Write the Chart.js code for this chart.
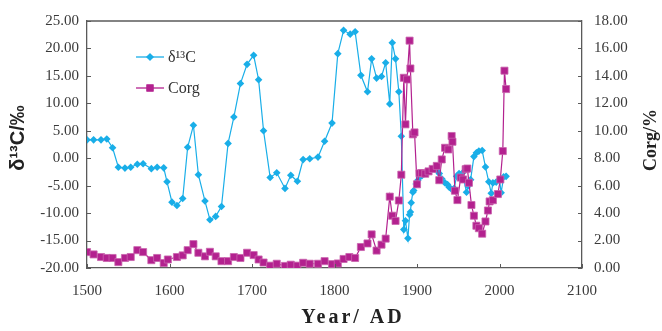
<!DOCTYPE html>
<html><head><meta charset="utf-8">
<script src="https://cdn.jsdelivr.net/npm/chart.js@4"></script>
<style>html,body{margin:0;padding:0;background:#fff}#wrap{width:662px;height:331px}</style>
</head><body><div id="wrap"><canvas id="c" width="662" height="331"></canvas></div>
<script>
// ---- data ----
const d13cYears = [1500,1508,1517,1524,1531,1538,1546,1553,1561,1568,1578,1585,1593,1597,1603,1609,1616,1622,1629,1635,1643,1649,1656,1663,1671,1678,1686,1694,1702,1708,1714,1722,1730,1740,1747,1755,1762,1770,1780,1788,1797,1804,1811,1819,1825,1832,1840,1845,1851,1857,1862,1867,1870,1874,1878,1881,1884,1886,1889,1891,1892,1893,1895,1896,1899,1901,1903,1906,1909,1913,1917,1921,1925,1927,1930,1934,1937,1939,1942,1945,1948,1951,1955,1960,1962,1965,1969,1972,1975,1979,1983,1987,1990,1992,1996,2000,2002,2005,2008];
const d13cValues = [3.35,3.35,3.35,3.5,1.9,-1.65,-1.8,-1.65,-1.1,-1.0,-1.9,-1.65,-1.75,-4.3,-8.0,-8.6,-7.35,2.0,6.0,-3.0,-7.8,-11.2,-10.6,-8.8,2.7,7.5,13.6,17.1,18.75,14.3,5.0,-3.5,-2.65,-5.5,-3.1,-4.2,-0.25,-0.1,0.2,3.1,6.4,19.05,23.3,22.6,23.05,15.1,12.1,18.1,14.6,14.9,17.4,9.9,21.05,18.1,12.1,4.0,-13.0,-11.4,-14.6,-10.3,-9.8,-8.1,-6.2,-5.9,-4.7,-4.0,-3.5,-3.2,-2.8,-2.6,-2.2,-2.0,-2.35,-2.8,-3.75,-4.5,-4.8,-5.3,-5.65,-5.5,-3.3,-2.8,-2.7,-6.2,-5.05,-3.9,0.3,1.0,1.3,1.4,-1.6,-4.3,-6.4,-4.5,-4.35,-3.9,-6.3,-3.4,-3.3];
const corgYears = [1500,1508,1517,1524,1531,1538,1546,1553,1561,1568,1578,1585,1593,1598,1609,1616,1622,1629,1635,1643,1649,1656,1663,1671,1678,1686,1694,1702,1708,1714,1722,1730,1740,1747,1755,1762,1770,1780,1788,1797,1804,1811,1818,1825,1832,1840,1845,1851,1857,1862,1867,1870,1874,1878,1881,1884,1886,1888,1891,1892,1895,1897,1900,1903,1906,1910,1914,1919,1924,1927,1930,1934,1938,1942,1943,1946,1949,1953,1956,1959,1961,1963,1966,1969,1972,1975,1979,1983,1986,1988,1992,1998,2001,2004,2006,2008];
const corgValues = [1.16,0.99,0.80,0.73,0.73,0.43,0.73,0.80,1.30,1.16,0.57,0.73,0.36,0.62,0.80,0.92,1.30,1.74,1.11,0.85,1.18,0.85,0.50,0.50,0.80,0.73,1.11,0.94,0.62,0.40,0.17,0.31,0.15,0.24,0.17,0.38,0.31,0.31,0.50,0.28,0.33,0.66,0.80,0.73,1.53,1.79,2.45,1.27,1.70,2.14,5.2,3.81,3.43,4.92,6.8,13.86,10.47,13.74,16.57,14.54,9.74,9.88,6.1,6.9,6.92,6.87,7.04,7.22,7.44,6.4,7.91,8.76,8.64,9.62,9.2,5.63,4.95,6.59,6.45,7.2,7.25,6.21,4.59,3.81,3.08,2.9,2.5,3.39,4.19,4.85,4.94,5.39,6.45,8.52,14.38,13.04];
const xTickValues = [1500,1600,1700,1800,1900,2000,2100];
const leftTickValues = [-20,-15,-10,-5,0,5,10,15,20,25];
const rightTickValues = [0,2,4,6,8,10,12,14,16,18];
const seriesNames = ['δ¹³C','Corg'];
const leftTitle = 'δ¹³C/‰';
const rightTitle = 'Corg/%';
const xTitle = 'Year/ AD';

const BLUE = '#19aee8', MAG = '#b3218f', AXIS = '#5a5a5a', TXT = '#3a3a3a';
const tickFont = {family:'"Liberation Serif", serif', size:15};

const decor = {
  id:'decor',
  afterDraw(chart){
    const {ctx, chartArea:a, scales} = chart;
    ctx.save();
    ctx.strokeStyle = AXIS; ctx.lineWidth = 1.3;
    ctx.beginPath(); ctx.moveTo(a.left, a.top); ctx.lineTo(a.right, a.top); ctx.stroke();
    ctx.lineWidth = 1;
    ctx.beginPath();
    scales.x.ticks.forEach(t=>{const p=Math.round(scales.x.getPixelForValue(t.value))+0.5; ctx.moveTo(p,a.bottom); ctx.lineTo(p,a.bottom-4);});
    scales.y.ticks.forEach(t=>{const p=Math.round(scales.y.getPixelForValue(t.value))+0.5; ctx.moveTo(a.left,p); ctx.lineTo(a.left+4,p);});
    scales.y1.ticks.forEach(t=>{const p=Math.round(scales.y1.getPixelForValue(t.value))+0.5; ctx.moveTo(a.right,p); ctx.lineTo(a.right-4,p);});
    ctx.stroke();
    // legend
    const ds = chart.data.datasets;
    const rows = [{y:57, ds:ds[0]}, {y:88, ds:ds[1]}];
    rows.forEach(r=>{
      ctx.strokeStyle = r.ds.borderColor; ctx.lineWidth = 1.3;
      ctx.beginPath(); ctx.moveTo(136, r.y); ctx.lineTo(164, r.y); ctx.stroke();
      ctx.fillStyle = r.ds.pointBackgroundColor;
      Chart.helpers.drawPoint(ctx, {pointStyle:r.ds.pointStyle, radius:r.ds.pointRadius, rotation:0, borderWidth:0}, 150, r.y);
      ctx.fill();
      ctx.fillStyle = '#333'; ctx.font = '16px "Liberation Serif", serif';
      ctx.textAlign='left'; ctx.textBaseline='middle';
      ctx.fillText(r.ds.label, 168, r.y+1);
    });
    // titles
    ctx.fillStyle = '#222';
    ctx.textAlign='center'; ctx.textBaseline='middle';
    ctx.save(); ctx.translate(18,138); ctx.rotate(-Math.PI/2);
    ctx.font = 'bold 20px "Liberation Sans", sans-serif'; ctx.fillText(leftTitle,0,0); ctx.restore();
    ctx.save(); ctx.translate(651,140); ctx.rotate(-Math.PI/2);
    ctx.font = 'bold 18px "Liberation Serif", serif'; ctx.fillText(rightTitle,0,0); ctx.restore();
    ctx.font = 'bold 20px "Liberation Serif", serif';
    if ('letterSpacing' in ctx) ctx.letterSpacing = '3px';
    ctx.fillText(xTitle, 353, 318);
    ctx.restore();
  }
};

new Chart(document.getElementById('c'), {
  type:'line',
  data:{datasets:[
    {label:seriesNames[0], data:d13cYears.map((x,i)=>({x, y:d13cValues[i]})), yAxisID:'y',
     borderColor:BLUE, backgroundColor:BLUE, pointBackgroundColor:BLUE, pointBorderColor:BLUE,
     borderWidth:1.2, pointStyle:'rectRot', pointRadius:3.8, pointBorderWidth:0, tension:0, order:2},
    {label:seriesNames[1], data:corgYears.map((x,i)=>({x, y:corgValues[i]})), yAxisID:'y1',
     borderColor:MAG, backgroundColor:MAG, pointBackgroundColor:MAG, pointBorderColor:'#c963ad',
     borderWidth:1.2, pointStyle:'rect', pointRadius:5, pointBorderWidth:0.8, tension:0, order:1}
  ]},
  options:{
    responsive:false, animation:false, devicePixelRatio:1,
    layout:{padding:{top:13,left:0,right:0,bottom:0}},
    plugins:{legend:{display:false}, tooltip:{enabled:false}},
    scales:{
      x:{type:'linear', min:1500, max:2100,
         afterBuildTicks:s=>{s.ticks = xTickValues.map(v=>({value:v}));},
         afterFit:s=>{s.height=63;},
         grid:{display:false, drawTicks:false}, border:{display:true, color:AXIS, width:1.3},
         ticks:{color:TXT, font:tickFont, padding:14, maxRotation:0, autoSkip:false, callback:v=>String(v)}},
      y:{type:'linear', position:'left', min:-20, max:25,
         afterBuildTicks:s=>{s.ticks = leftTickValues.map(v=>({value:v}));},
         afterFit:s=>{s.width=87;},
         grid:{display:false, drawTicks:false}, border:{display:true, color:AXIS, width:1.3},
         ticks:{color:TXT, font:tickFont, padding:8, autoSkip:false, callback:v=>Number(v).toFixed(2)}},
      y1:{type:'linear', position:'right', min:0, max:18,
         afterBuildTicks:s=>{s.ticks = rightTickValues.map(v=>({value:v}));},
         afterFit:s=>{s.width=80;},
         grid:{display:false, drawTicks:false}, border:{display:true, color:AXIS, width:1.3},
         ticks:{color:TXT, font:tickFont, padding:12, autoSkip:false, callback:v=>Number(v).toFixed(2)}}
    }
  },
  plugins:[decor]
});
</script></body></html>
